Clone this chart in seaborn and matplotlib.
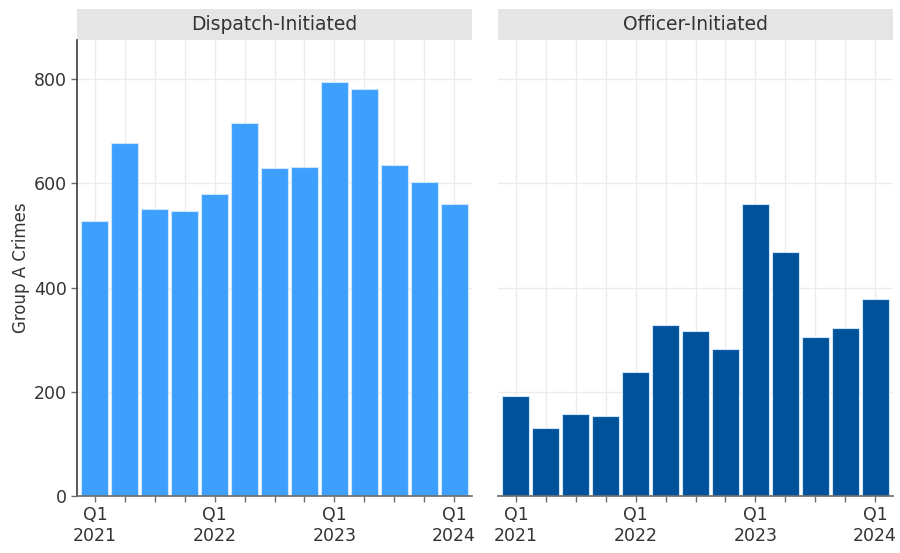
import pandas as pd
import seaborn as sns
import matplotlib.pyplot as plt
from matplotlib.patches import Rectangle

# Quarterly Group A crime counts, 2021 Q1 -> 2024 Q1
quarters = ['2021Q1', '2021Q2', '2021Q3', '2021Q4',
            '2022Q1', '2022Q2', '2022Q3', '2022Q4',
            '2023Q1', '2023Q2', '2023Q3', '2023Q4',
            '2024Q1']
dispatch = [527, 677, 550, 546, 580, 716, 629, 631, 795, 781, 636, 603, 560]
officer = [192, 131, 157, 153, 237, 329, 317, 282, 560, 468, 306, 322, 378]

panels = ['Dispatch-Initiated', 'Officer-Initiated']
colors = {'Dispatch-Initiated': '#3DA0FF', 'Officer-Initiated': '#00529B'}
tick_labels = ['Q1\n2021', '', '', '', 'Q1\n2022', '', '', '',
               'Q1\n2023', '', '', '', 'Q1\n2024']


def main():
    df = pd.concat([
        pd.DataFrame({'quarter': quarters, 'crimes': dispatch, 'type': panels[0]}),
        pd.DataFrame({'quarter': quarters, 'crimes': officer, 'type': panels[1]}),
    ])

    sns.set_theme(style='white')
    plt.rcParams['font.family'] = ['DejaVu Sans']

    fig = plt.figure(figsize=(9, 5.53), dpi=100)
    W, H = 900, 553
    top, bottom = 40, 496
    lefts = [77, 498]
    width = 395

    for i, name in enumerate(panels):
        ax = fig.add_axes([lefts[i] / W, 1 - bottom / H, width / W, (bottom - top) / H])
        sub = df[df['type'] == name]
        sns.barplot(data=sub, x='quarter', y='crimes', order=quarters, color=colors[name],
                    width=0.9, edgecolor='#cfe5fb', linewidth=0.8, saturation=1, ax=ax)
        ax.set_ylim(0, 875)
        ax.set_xlim(-0.6, 12.6)
        ax.set_yticks([0, 200, 400, 600, 800])
        ax.set_xticks(range(len(quarters)))
        ax.set_xticklabels(tick_labels)
        ax.tick_params(axis='x', length=4, width=1, color='#6e6e6e', direction='out',
                       labelsize=12.5, labelcolor='#333333', pad=3, bottom=True)
        ax.grid(True, color='#ececec', linewidth=1)
        ax.set_axisbelow(True)
        for s in ['top', 'right']:
            ax.spines[s].set_visible(False)
        ax.spines['bottom'].set_color('#6e6e6e')
        ax.set_xlabel('')
        if i == 0:
            ax.spines['left'].set_color('#444444')
            ax.tick_params(axis='y', length=4, width=1, color='#6e6e6e', labelsize=12.5,
                           labelcolor='#333333', left=True)
            ax.set_ylabel('Group A Crimes', fontsize=12, color='#333333')
            ax.yaxis.set_label_coords(-0.12, 0.5)
        else:
            ax.spines['left'].set_visible(False)
            ax.tick_params(axis='y', length=0, labelleft=False)
            ax.set_ylabel('')
        # facet strip
        strip_h = 31 / (bottom - top)
        ax.add_patch(Rectangle((0, 1.0), 1, strip_h, transform=ax.transAxes,
                               facecolor='#e5e5e5', edgecolor='none', clip_on=False))
        ax.text(0.5, 1.0 + strip_h / 2, name, transform=ax.transAxes, ha='center',
                va='center', fontsize=13.5, color='#333333')

    fig.savefig('out.png', dpi=100)
    plt.close(fig)


if __name__ == '__main__':
    main()
